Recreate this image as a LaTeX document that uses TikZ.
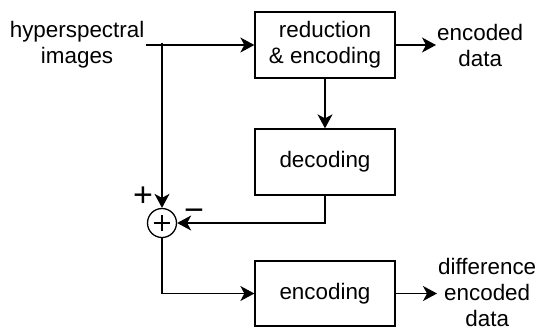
\documentclass[tikz,border=0pt]{standalone}
\usepackage{fontspec}
\setmainfont{Liberation Sans}
\usetikzlibrary{arrows.meta,calc}
\tikzset{
  every picture/.style={x=1pt,y=-1pt},
  lbl/.style={font=\fontsize{22.4}{26}\selectfont, align=center, inner sep=1pt},
  blk/.style={draw, line width=1.3pt, minimum width=140pt, minimum height=66pt,
              font=\fontsize{22.4}{26}\selectfont, align=center, inner sep=0pt},
  sumnode/.style={draw, circle, line width=1.3pt, minimum size=29pt, inner sep=0pt},
  flow/.style={line width=1.3pt, -{Stealth[length=14pt, width=15pt, inset=4pt]}},
  wire/.style={line width=1.3pt},
  sgn/.style={font=\fontsize{34}{34}\selectfont, inner sep=0pt}
}
\begin{document}
\begin{tikzpicture}
\useasboundingbox (0,0) rectangle (540,333);

% blocks
\node[blk] (enc1) at (325,45) {reduction\\\& encoding};
\node[blk] (dec)  at (325,162) {decoding};
\node[blk, minimum height=65pt] (enc2) at (325,293.5) {encoding};

% summing junction
\node[sumnode] (sum) at (162,223) {};
\draw[wire, line width=1.1pt] ($(sum.center)+(-8,0)$) -- ($(sum.center)+(8,0)$)
      ($(sum.center)+(0,-8)$) -- ($(sum.center)+(0,8)$);

% inputs and outputs
\node[lbl, anchor=east] (inp) at (145.5,45) {hyperspectral\\images};
\node[lbl, anchor=west] (out1) at (436,45) {encoded\\data};
\node[lbl, anchor=west] (out2) at (437,292) {difference\\encoded\\data};

% sign labels
\node[sgn] (plus) at (143,197) {+};
\node[sgn] (minus) at (194,215) {\char"2212};

% taps and corners
\coordinate (tap) at (162,43);
\coordinate (fbk) at (dec.south |- sum.east);
\coordinate (low) at (sum.south |- enc2.west);

% connectors
\draw[flow] (inp.east |- enc1.west) -- (enc1.west);
\draw[flow] (tap) -- (sum.north);
\draw[flow] (enc1.south) -- (dec.north);
\draw[flow] (dec.south) -- (fbk) -- (sum.east);
\draw[flow] (sum.south) -- (low) -- (enc2.west);
\draw[flow] (enc1.east) -- (out1.west |- enc1.east);
\draw[flow] (enc2.east) -- (out2.west |- enc2.east);
\end{tikzpicture}
\end{document}
